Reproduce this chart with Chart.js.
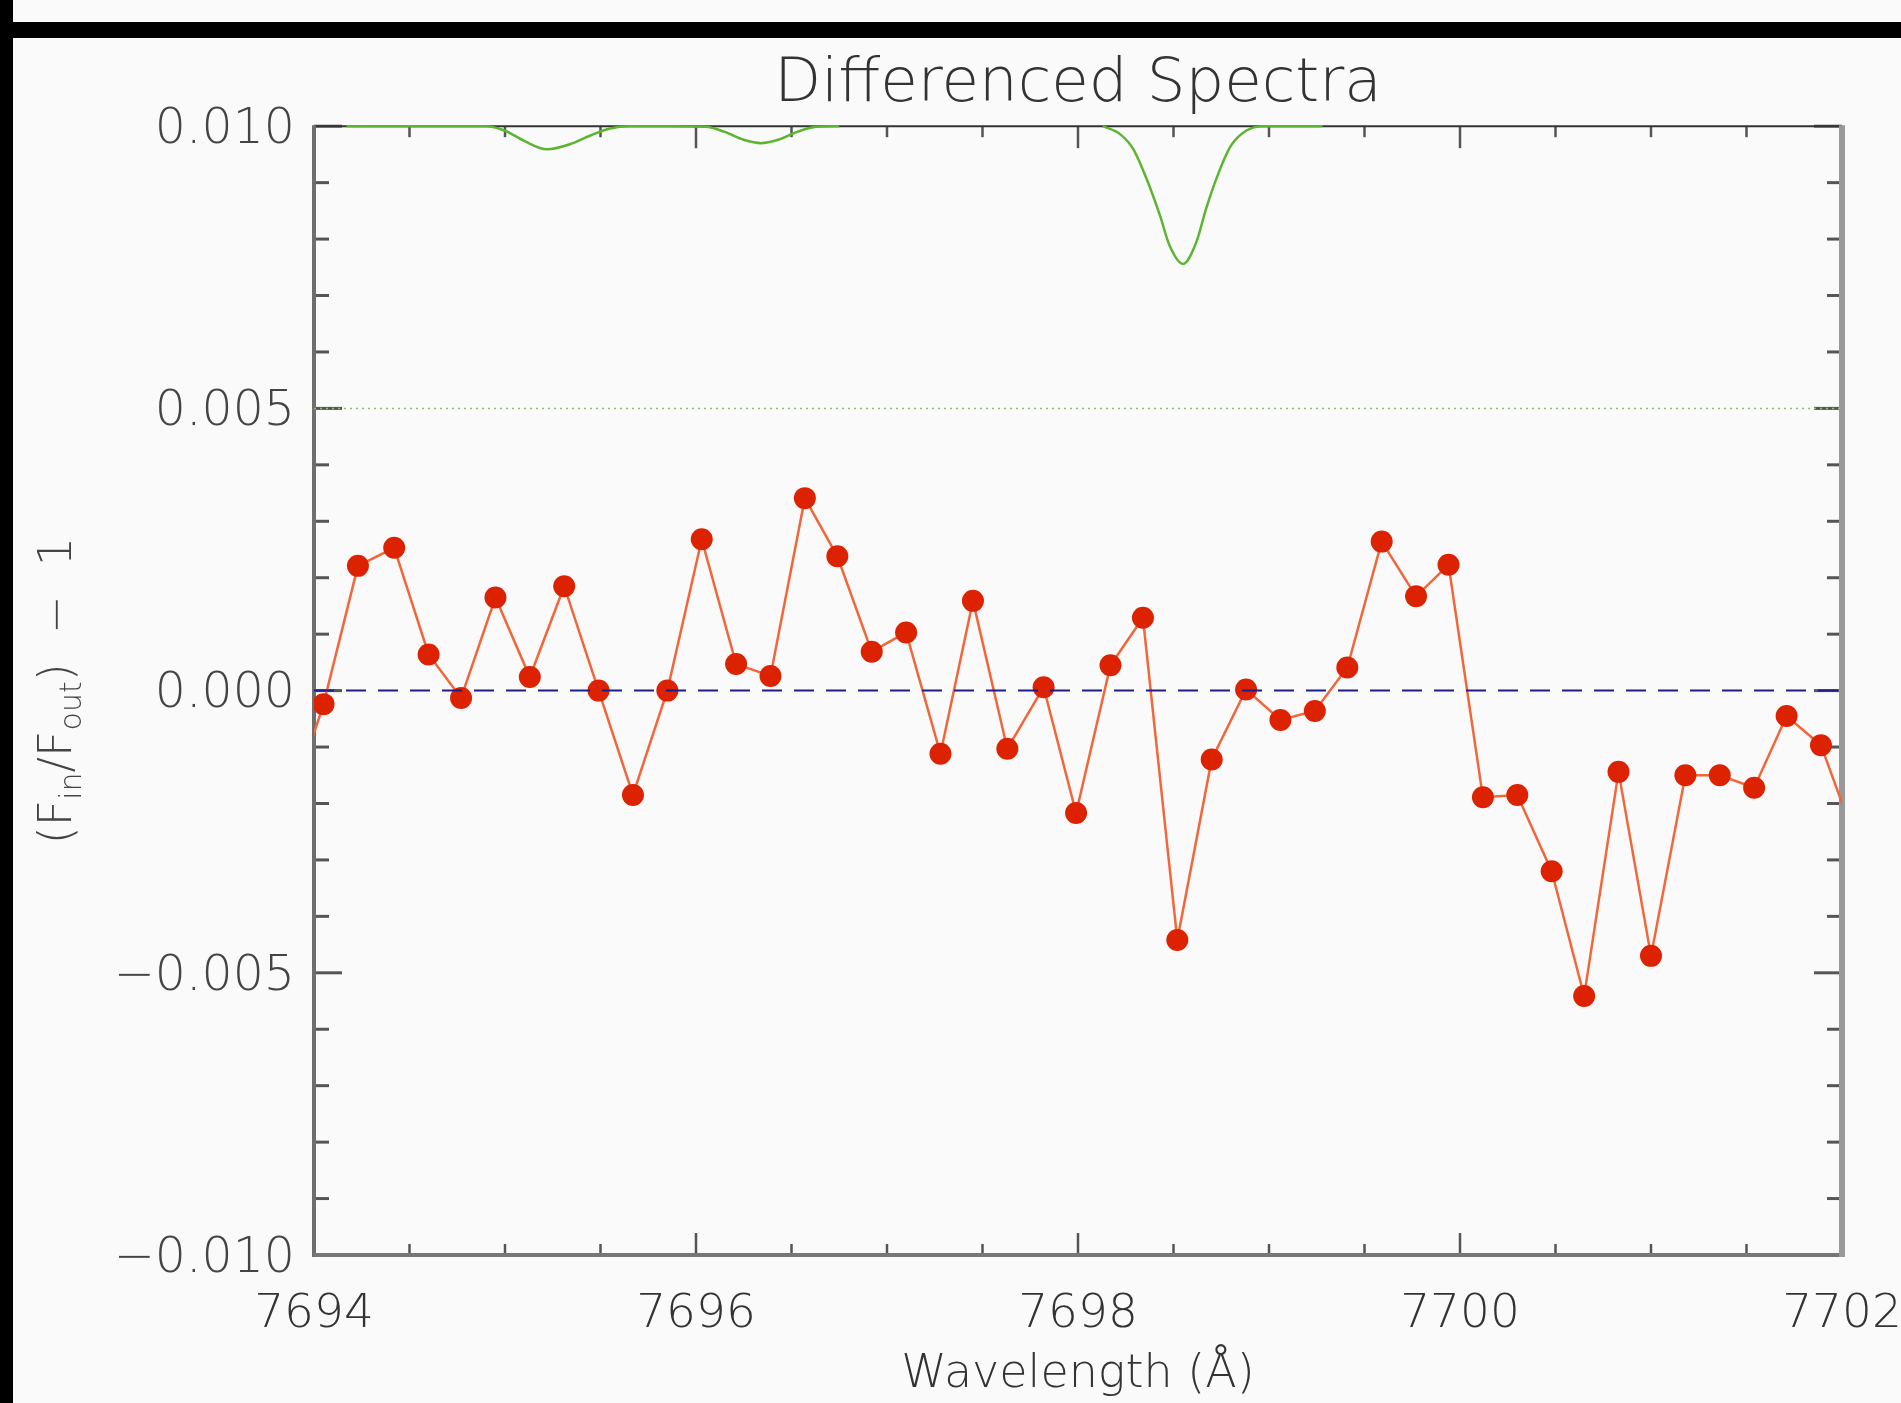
<!DOCTYPE html>
<html>
<head>
<meta charset="utf-8">
<title>Differenced Spectra</title>
<script src="https://cdn.jsdelivr.net/npm/chart.js@4.4.1/dist/chart.umd.min.js"></script>
<style>
  html, body { margin: 0; padding: 0; background: #fafafa; overflow: hidden; }
</style>
</head>
<body>
<canvas id="spectraChart" width="1901" height="1403"></canvas>
<script>
// labels
var titleText = 'Differenced Spectra';
var xAxisTitle = 'Wavelength (Å)';

// tick labels
var xTickValues = [7694, 7696, 7698, 7700, 7702];
var yTickValues = [-0.010, -0.005, 0.000, 0.005, 0.010];

// differenced spectrum (red points), first and last sit just outside the plot
var diffWavelength = [7693.87, 7694.05, 7694.23, 7694.42, 7694.60, 7694.77, 7694.95, 7695.13,
  7695.31, 7695.49, 7695.67, 7695.85, 7696.03, 7696.21, 7696.39, 7696.57, 7696.74, 7696.92,
  7697.10, 7697.28, 7697.45, 7697.63, 7697.82, 7697.99, 7698.17, 7698.34, 7698.52, 7698.70,
  7698.88, 7699.06, 7699.24, 7699.41, 7699.59, 7699.77, 7699.94, 7700.12, 7700.30, 7700.48,
  7700.65, 7700.83, 7701.00, 7701.18, 7701.36, 7701.54, 7701.71, 7701.89, 7702.07];
var diffValue = [-0.00210, -0.00024, 0.00221, 0.00253, 0.00064, -0.00013, 0.00165, 0.00024,
  0.00185, 0.00000, -0.00185, 0.00000, 0.00268, 0.00047, 0.00026, 0.00341, 0.00238, 0.00069,
  0.00103, -0.00112, 0.00159, -0.00103, 0.00006, -0.00217, 0.00045, 0.00129, -0.00442, -0.00122,
  0.00002, -0.00052, -0.00036, 0.00041, 0.00264, 0.00167, 0.00223, -0.00189, -0.00185, -0.00320,
  -0.00541, -0.00144, -0.00470, -0.00150, -0.00150, -0.00172, -0.00045, -0.00097, -0.00264];

// model absorption profile (green), drawn along the top of the plot
var modelWavelength = [7694.17, 7694.50, 7694.90, 7695.00, 7695.10, 7695.22, 7695.34, 7695.45,
  7695.55, 7695.65, 7695.85, 7696.05, 7696.15, 7696.25, 7696.34, 7696.43, 7696.53, 7696.63,
  7696.75, 7697.40,
  7698.13, 7698.22, 7698.29, 7698.36, 7698.43, 7698.48, 7698.55, 7698.62, 7698.67, 7698.73,
  7698.80, 7698.88, 7698.97, 7699.28];
var modelValue = [0.0100, 0.0100, 0.0100, 0.00992, 0.00974, 0.00959, 0.00968, 0.00984,
  0.00996, 0.0100, 0.0100, 0.00999, 0.00990, 0.00976, 0.00970, 0.00976, 0.00990, 0.00999,
  0.0100, null,
  0.0100, 0.00986, 0.00959, 0.00906, 0.00841, 0.00788, 0.00756, 0.00795, 0.00853, 0.00912,
  0.00965, 0.00992, 0.0100, 0.0100];

// reference levels
var levelWavelength = [7694, 7702];
var zeroLevel = [0, 0];
var modelLevel = [0.005, 0.005];

function toPoints(xs, ys) {
  return xs.map(function(x, i) {
    return { x: x, y: ys[i] };
  });
}

function fmtY(v) {
  var s = Math.abs(v).toFixed(3);
  return v < -1e-9 ? '\u2212' + s : s;
}

var fontFamily = "'DejaVu Sans', 'Liberation Sans', sans-serif";

// page background and the black strips from the screenshot
var backdrop = {
  id: 'backdrop',
  beforeDraw: function(chart) {
    var ctx = chart.ctx;
    ctx.save();
    ctx.fillStyle = '#fafafa';
    ctx.fillRect(0, 0, chart.width, chart.height);
    ctx.fillStyle = '#000';
    ctx.fillRect(0, 22, chart.width, 16);
    ctx.fillRect(0, 0, 13, chart.height);
    ctx.restore();
  }
};

// box frame with inward ticks on all four sides
var frameTicks = {
  id: 'frameTicks',
  beforeDatasetsDraw: function(chart) {
    var ctx = chart.ctx;
    var a = chart.chartArea;
    var xs = chart.scales.x;
    var ys = chart.scales.y;

    function seg(x1, y1, x2, y2) {
      ctx.beginPath();
      ctx.moveTo(x1, y1);
      ctx.lineTo(x2, y2);
      ctx.stroke();
    }

    ctx.save();
    ctx.strokeStyle = '#555';
    ctx.lineWidth = 2.5;
    for (var k = 0; k <= 16; k++) {
      var w = 7694 + k * 0.5;
      var px = xs.getPixelForValue(w);
      var len = (k % 4 === 0) ? 22 : 11;
      seg(px, a.bottom, px, a.bottom - len);
      seg(px, a.top, px, a.top + len);
    }
    ctx.lineWidth = 3;
    for (var j = -10; j <= 10; j++) {
      var py = ys.getPixelForValue(j / 1000);
      var ylen = (j % 5 === 0) ? 28 : 15;
      seg(a.left, py, a.left + ylen, py);
      seg(a.right, py, a.right - ylen, py);
    }

    ctx.strokeStyle = '#333';
    ctx.lineWidth = 2;
    seg(a.left, a.top, a.right, a.top);
    ctx.strokeStyle = '#6e6e6e';
    ctx.lineWidth = 4;
    seg(a.left, a.top - 1, a.left, a.bottom + 2);
    ctx.strokeStyle = '#777';
    seg(a.left, a.bottom, a.right + 3, a.bottom);
    ctx.strokeStyle = '#999';
    ctx.lineWidth = 6;
    seg(a.right, a.top - 1, a.right, a.bottom + 2);
    ctx.restore();
  }
};

// y axis title with subscripts
var yTitle = {
  id: 'yTitle',
  afterDraw: function(chart) {
    var ctx = chart.ctx;
    var a = chart.chartArea;
    var mainFont = '200 46px ' + fontFamily;
    var subFont = '200 30px ' + fontFamily;
    var parts = [
      { t: '(', f: mainFont, dy: 0 },
      { t: 'F', f: mainFont, dy: 0 },
      { t: 'in', f: subFont, dy: 10 },
      { t: '/', f: mainFont, dy: 0 },
      { t: 'F', f: mainFont, dy: 0 },
      { t: 'out', f: subFont, dy: 10 },
      { t: ')', f: mainFont, dy: 0 },
      { t: '  \u2212  1', f: mainFont, dy: 0 }
    ];
    ctx.save();
    var total = 0;
    parts.forEach(function(p) {
      ctx.font = p.f;
      p.w = ctx.measureText(p.t).width;
      total += p.w;
    });
    ctx.translate(55, (a.top + a.bottom) / 2);
    ctx.rotate(-Math.PI / 2);
    ctx.fillStyle = '#444';
    ctx.textBaseline = 'alphabetic';
    ctx.textAlign = 'left';
    var x = -total / 2;
    parts.forEach(function(p) {
      ctx.font = p.f;
      ctx.fillText(p.t, x, 16 + p.dy);
      x += p.w;
    });
    ctx.restore();
  }
};

var ctx = document.getElementById('spectraChart').getContext('2d');
var chart = new Chart(ctx, {
  type: 'line',
  data: {
    datasets: [
      {
        label: 'model level',
        data: toPoints(levelWavelength, modelLevel),
        borderColor: '#86c766',
        borderWidth: 1.5,
        borderDash: [2, 4],
        pointRadius: 0
      },
      {
        label: 'zero',
        data: toPoints(levelWavelength, zeroLevel),
        borderColor: '#1c1c8c',
        borderWidth: 2,
        borderDash: [20, 12],
        pointRadius: 0
      },
      {
        label: 'model',
        data: toPoints(modelWavelength, modelValue),
        borderColor: '#5cb530',
        borderWidth: 2.5,
        pointRadius: 0,
        spanGaps: false,
        cubicInterpolationMode: 'monotone',
        clip: 3
      },
      {
        label: 'difference',
        data: toPoints(diffWavelength, diffValue),
        borderColor: '#f2663a',
        borderWidth: 2.5,
        pointRadius: 11,
        pointBackgroundColor: '#dc2200',
        pointBorderWidth: 0,
        tension: 0
      }
    ]
  },
  options: {
    responsive: false,
    animation: false,
    devicePixelRatio: 1,
    layout: { padding: { left: 0, right: 59, top: 0, bottom: 0 } },
    plugins: {
      legend: { display: false },
      tooltip: { enabled: false },
      title: {
        display: true,
        text: titleText,
        fullSize: false,
        color: '#333',
        font: { family: fontFamily, size: 61, weight: '200' },
        padding: { top: 49, bottom: 4 }
      }
    },
    scales: {
      x: {
        type: 'linear',
        min: 7694,
        max: 7702,
        afterBuildTicks: function(scale) {
          scale.ticks = xTickValues.map(function(v) { return { value: v }; });
        },
        afterFit: function(scale) {
          scale.height = 148;
          scale.paddingLeft = 0;
          scale.paddingRight = 0;
        },
        grid: { display: false, drawTicks: false },
        border: { display: false },
        ticks: {
          padding: 32,
          maxRotation: 0,
          color: '#333',
          font: { family: fontFamily, size: 47, weight: '200' },
          callback: function(v) { return String(v); }
        },
        title: {
          display: true,
          text: xAxisTitle,
          color: '#333',
          font: { family: fontFamily, size: 46, weight: '200' },
          padding: { top: 0, bottom: 0 }
        }
      },
      y: {
        type: 'linear',
        min: -0.01,
        max: 0.01,
        afterBuildTicks: function(scale) {
          scale.ticks = yTickValues.map(function(v) { return { value: v }; });
        },
        afterFit: function(scale) {
          scale.width = 314;
          scale.paddingTop = 0;
          scale.paddingBottom = 0;
        },
        grid: { display: false, drawTicks: false },
        border: { display: false },
        ticks: {
          padding: 19,
          labelOffset: 4,
          color: '#444',
          font: { family: fontFamily, size: 49, weight: '200' },
          callback: function(v) { return fmtY(v); }
        }
      }
    }
  },
  plugins: [backdrop, frameTicks, yTitle]
});
</script>
</body>
</html>
